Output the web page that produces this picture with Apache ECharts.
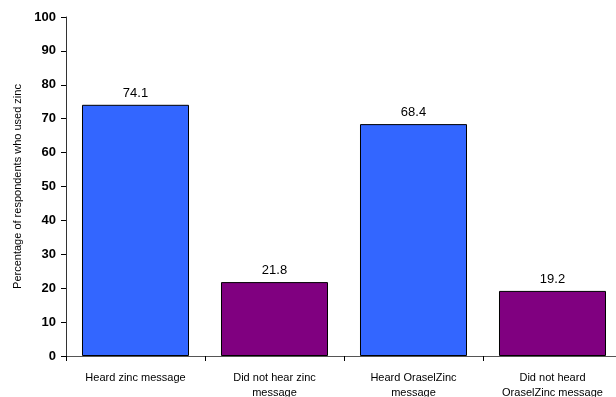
<!DOCTYPE html>
<html>
<head>
<meta charset="utf-8">
<script src="https://cdn.jsdelivr.net/npm/echarts@6/dist/echarts.min.js"></script>
<style>
  html, body { margin: 0; padding: 0; background: #fff; overflow: hidden; }
  /* plot runs a little past the right edge, as in the reference */
  #chart { width: 622px; height: 397px; }
</style>
</head>
<body>
<div id="chart"></div>
<script>
// === Data ===
const categories = [
  'Heard zinc message',
  'Did not hear zinc\nmessage',
  'Heard OraselZinc\nmessage',
  'Did not heard\nOraselZinc message'
];
const values = [74.1, 21.8, 68.4, 19.2];
const barColors = ['#3366ff', '#800080', '#3366ff', '#800080'];
const yTicks = [0, 10, 20, 30, 40, 50, 60, 70, 80, 90, 100];

const chart = echarts.init(document.getElementById('chart'));

chart.setOption({
  animation: false,
  textStyle: { fontFamily: '"Liberation Sans", Arial, sans-serif' },
  grid: { left: 66, right: 0, top: 17, bottom: 41, containLabel: false, outerBoundsMode: 'none' },
  xAxis: {
    type: 'category',
    data: categories,
    axisLine: { lineStyle: { color: '#555', width: 1 } },
    axisTick: { show: true, inside: false, length: 5, alignWithLabel: false, lineStyle: { color: '#000' } },
    axisLabel: { color: '#000', fontSize: 11, margin: 14, lineHeight: 15, interval: 0 }
  },
  yAxis: {
    type: 'value',
    min: yTicks[0],
    max: yTicks[yTicks.length - 1],
    interval: 10,
    name: 'Percentage of respondents who used zinc',
    nameLocation: 'middle',
    nameGap: 41,
    nameRotate: 90,
    nameTextStyle: { color: '#000', fontSize: 11 },
    splitLine: { show: false },
    axisLine: { show: true, lineStyle: { color: '#333', width: 1 } },
    axisTick: { show: true, inside: false, length: 5, lineStyle: { color: '#000' } },
    axisLabel: { color: '#000', fontSize: 13, fontWeight: 'bold', margin: 10 }
  },
  series: [{
    type: 'bar',
    barWidth: '77%',
    data: values.map((v, i) => ({
      value: v,
      itemStyle: { color: barColors[i], borderColor: '#000', borderWidth: 1 }
    })),
    label: {
      show: true,
      position: 'top',
      distance: 5,
      color: '#000',
      fontSize: 13
    }
  }]
});
</script>
</body>
</html>
